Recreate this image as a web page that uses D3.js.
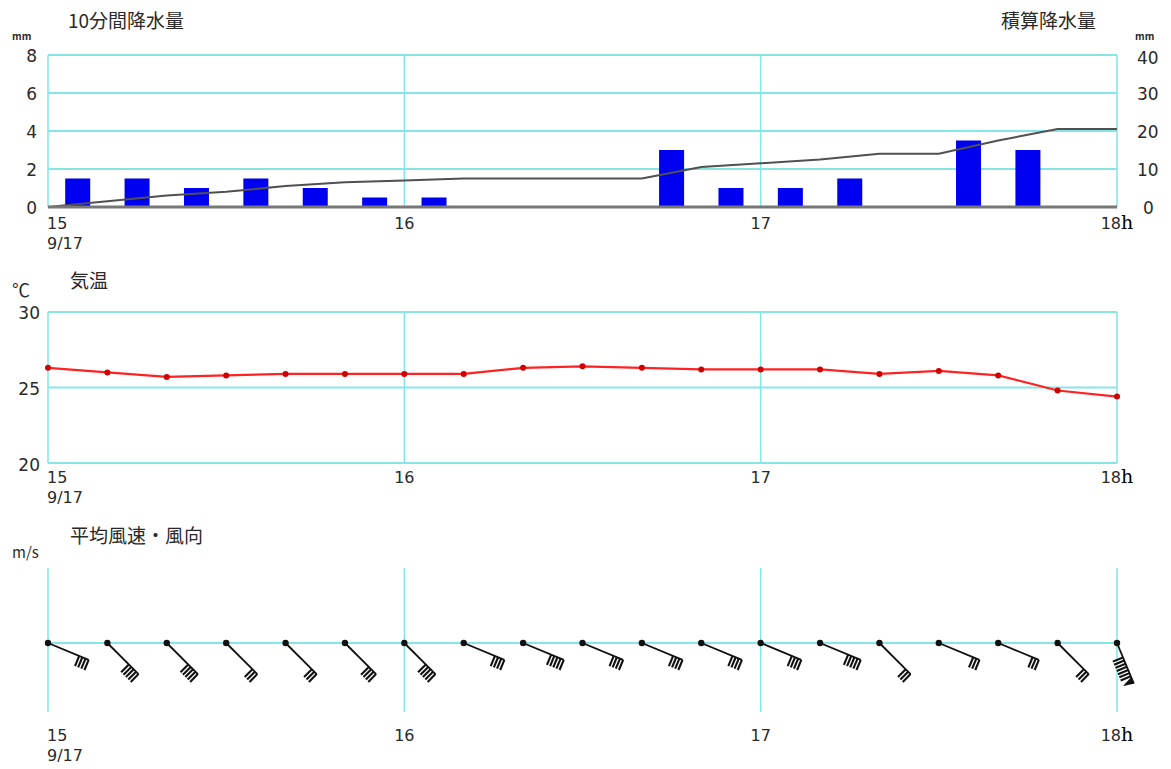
<!DOCTYPE html>
<html>
<head>
<meta charset="utf-8">
<script src="https://cdn.jsdelivr.net/npm/d3@7"></script>
<style>
  body { margin: 0; background: #fff; }
  text { font-family: "Noto Sans CJK JP", "DejaVu Sans", sans-serif; fill: #2a2a2a; }
  text.num { font-family: "DejaVu Sans", sans-serif; }
</style>
</head>
<body>
<svg id="chart"></svg>
<script>
const width = 1171;
const height = 769;

// 10-minute marks, 15:00 .. 18:00
const timeLabels = ["15:00","15:10","15:20","15:30","15:40","15:50","16:00","16:10","16:20","16:30",
  "16:40","16:50","17:00","17:10","17:20","17:30","17:40","17:50","18:00"];
const hourTicks = [15, 16, 17, 18];
const hourLabels = ["15", "16", "17", "18"];

// 10-minute precipitation (mm), for intervals ending 15:10 .. 18:00
const rain10 = [1.5, 1.5, 1.0, 1.5, 1.0, 0.5, 0.5, 0, 0, 0, 3.0, 1.0, 1.0, 1.5, 0, 3.5, 3.0, 0];
const rainLeftTicks = [0, 2, 4, 6, 8];
const rainRightTicks = [0, 10, 20, 30, 40];

// temperature (degC) at each 10-minute mark
const temps = [26.3, 26.0, 25.7, 25.8, 25.9, 25.9, 25.9, 25.9, 26.3, 26.4,
  26.3, 26.2, 26.2, 26.2, 25.9, 26.1, 25.8, 24.8, 24.4];
const tempTicks = [20, 25, 30];

// wind direction (where it blows from) and speed (m/s, 1 feather = 1, pennant = 5)
const windDir = ["東南東","南東","南東","南東","南東","南東","南東","東南東","東南東","東南東",
  "東南東","東南東","東南東","東南東","南東","東南東","東南東","南東","南南東"];
const windSpeed = [4, 5, 5, 3, 3, 4, 5, 4, 5, 4, 4, 4, 4, 5, 3, 3, 3, 3, 12];
const dirNames = ["北","北北東","北東","東北東","東","東南東","南東","南南東",
  "南","南南西","南西","西南西","西","西北西","北西","北北西"];

const gridColor = "#86e6e6";
const toHour = s => +s.split(":")[0] + +s.split(":")[1] / 60;

const svg = d3.select("#chart").attr("width", width).attr("height", height);

const x = d3.scaleLinear().domain([15, 18]).range([48, 1117]);

function hourAxis(yBase) {
  hourTicks.forEach((h, i) => {
    const g = svg.append("text").attr("class", "num")
      .attr("x", i === 0 ? 47 : x(h))
      .attr("y", yBase)
      .attr("text-anchor", i === 0 ? "start" : "middle")
      .style("font-size", "16px");
    g.append("tspan").text(hourLabels[i]);
    if (i === hourTicks.length - 1) {
      g.append("tspan").text("h")
        .style("font-family", "'DejaVu Serif', 'Liberation Serif', serif")
        .style("font-size", "19px").style("fill", "#000");
    }
  });
  svg.append("text").attr("class", "num").attr("x", 47).attr("y", yBase + 20)
    .style("font-size", "16px").text("9/17");
}

function label(tx, ty, txt, size, anchor) {
  return svg.append("text").attr("x", tx).attr("y", ty)
    .attr("text-anchor", anchor || "start")
    .style("font-size", size + "px").text(txt);
}

// ---------- precipitation ----------
const yRain = d3.scaleLinear().domain([0, 8]).range([207, 55]);
const yCum = d3.scaleLinear().domain([0, 40]).range([207, 55]);

label(68, 28, "10分間降水量", 19);
label(1096, 28, "積算降水量", 19, "end");
label(12, 40, "mm", 10).style("font-weight", "bold");
label(1135, 40, "mm", 10).style("font-weight", "bold");

svg.append("g").selectAll("line").data(rainLeftTicks.slice(1)).enter().append("line")
  .attr("x1", x(15)).attr("x2", x(18))
  .attr("y1", d => yRain(d)).attr("y2", d => yRain(d))
  .attr("stroke", gridColor).attr("stroke-width", 2);
svg.append("g").selectAll("line").data(hourTicks).enter().append("line")
  .attr("x1", d => x(d)).attr("x2", d => x(d))
  .attr("y1", yRain(8)).attr("y2", yRain(0))
  .attr("stroke", gridColor).attr("stroke-width", 1.5);

svg.append("g").selectAll("text").data(rainLeftTicks).enter().append("text").attr("class", "num")
  .attr("x", 37).attr("y", d => yRain(d) + 7).attr("text-anchor", "end")
  .style("font-size", "17px").text(d => d);
svg.append("g").selectAll("text").data(rainRightTicks).enter().append("text").attr("class", "num")
  .attr("x", d => d === 0 ? 1143 : 1137).attr("y", d => yCum(d) + (d === 40 ? 9 : 7))
  .style("font-size", "17px").text(d => d);

const slot = (x(18) - x(15)) / rain10.length;
svg.append("g").selectAll("rect").data(rain10).enter().append("rect")
  .attr("x", (d, i) => x(toHour(timeLabels[i])) + slot / 2 - 12.5)
  .attr("y", d => yRain(d))
  .attr("width", 25)
  .attr("height", d => yRain(0) - yRain(d))
  .attr("fill", "#0000f0");

const cum = [0].concat(Array.from(d3.cumsum(rain10)));
svg.append("path")
  .datum(cum)
  .attr("fill", "none").attr("stroke", "#505050").attr("stroke-width", 2)
  .attr("d", d3.line().x((d, i) => x(toHour(timeLabels[i]))).y(d => yCum(d)));

svg.append("line").attr("x1", x(15)).attr("x2", x(18))
  .attr("y1", yRain(0)).attr("y2", yRain(0))
  .attr("stroke", "#777").attr("stroke-width", 3);

hourAxis(229);

// ---------- temperature ----------
const yTemp = d3.scaleLinear().domain([20, 30]).range([463, 312]);

label(12, 297, "℃", 18);
label(70, 288, "気温", 19);

svg.append("g").selectAll("line").data(tempTicks).enter().append("line")
  .attr("x1", x(15)).attr("x2", x(18))
  .attr("y1", d => yTemp(d)).attr("y2", d => yTemp(d))
  .attr("stroke", gridColor).attr("stroke-width", 2);
svg.append("g").selectAll("line").data(hourTicks).enter().append("line")
  .attr("x1", d => x(d)).attr("x2", d => x(d))
  .attr("y1", yTemp(30)).attr("y2", yTemp(20))
  .attr("stroke", gridColor).attr("stroke-width", 1.5);
svg.append("g").selectAll("text").data(tempTicks).enter().append("text").attr("class", "num")
  .attr("x", 40).attr("y", d => yTemp(d) + (d === 20 ? 8 : 7)).attr("text-anchor", "end")
  .style("font-size", "17px").text(d => d);

svg.append("path").datum(temps)
  .attr("fill", "none").attr("stroke", "#f22").attr("stroke-width", 2.2)
  .attr("d", d3.line().x((d, i) => x(toHour(timeLabels[i]))).y(d => yTemp(d)));
svg.append("g").selectAll("circle").data(temps).enter().append("circle")
  .attr("cx", (d, i) => x(toHour(timeLabels[i]))).attr("cy", d => yTemp(d))
  .attr("r", 3).attr("fill", "#d00000");

hourAxis(483);

// ---------- wind ----------
const windY = 643;
label(12, 558, "m/s", 15);
label(70, 543, "平均風速・風向", 19);

svg.append("line").attr("x1", x(15)).attr("x2", x(18))
  .attr("y1", windY).attr("y2", windY)
  .attr("stroke", gridColor).attr("stroke-width", 2);
svg.append("g").selectAll("line").data(hourTicks).enter().append("line")
  .attr("x1", d => x(d)).attr("x2", d => x(d))
  .attr("y1", 568).attr("y2", 712)
  .attr("stroke", gridColor).attr("stroke-width", 1.5);

const barbs = svg.append("g");
timeLabels.forEach((t, i) => {
  const cx = x(toHour(t));
  const ang = dirNames.indexOf(windDir[i]) * 22.5 * Math.PI / 180;
  const vx = Math.sin(ang), vy = -Math.cos(ang);
  const px = -vy, py = vx; // feathers side
  const L = 44;
  const ex = cx + vx * L, ey = windY + vy * L;
  const g = barbs.append("g");
  g.append("line").attr("x1", cx).attr("y1", windY).attr("x2", ex).attr("y2", ey)
    .attr("stroke", "#111").attr("stroke-width", 1.8);
  let pos = 0;
  let sp = windSpeed[i];
  if (sp >= 10) {
    sp -= 5;
    g.append("path")
      .attr("d", `M${ex},${ey} L${ex + px * 11 - vx * 2},${ey + py * 11 - vy * 2} L${ex - vx * 7},${ey - vy * 7} Z`)
      .attr("fill", "#111");
    pos = 8;
  }
  for (let k = 0; k < sp; k++) {
    const bx = ex - vx * (pos + k * 3.4), by = ey - vy * (pos + k * 3.4);
    g.append("line").attr("x1", bx).attr("y1", by)
      .attr("x2", bx + px * 11).attr("y2", by + py * 11)
      .attr("stroke", "#111").attr("stroke-width", 2.1);
  }
  g.append("circle").attr("cx", cx).attr("cy", windY).attr("r", 3.2).attr("fill", "#111");
});

hourAxis(741);
</script>
</body>
</html>
